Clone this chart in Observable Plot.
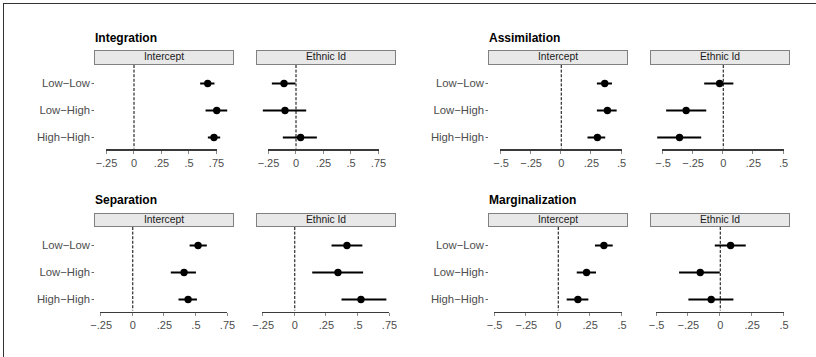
<!DOCTYPE html>
<html>
<head>
<meta charset="utf-8">
<script src="https://cdn.jsdelivr.net/npm/d3@7"></script>
<script src="https://cdn.jsdelivr.net/npm/@observablehq/plot@0.6"></script>
<style>
  html, body { margin: 0; padding: 0; background: #fff; }
  #chart { position: relative; width: 816px; height: 357px; overflow: hidden; font-family: "Liberation Sans", Arial, sans-serif; }
  .border { position: absolute; left: 3px; top: 3px; right: -5px; bottom: -5px; border-top: 1.5px solid #333; border-left: 1.5px solid #333; }
  .title { position: absolute; font-weight: bold; font-size: 12px; line-height: 12px; color: #000; white-space: nowrap; }
  .strip { position: absolute; box-sizing: border-box; width: 140px; height: 14.5px; background: #e8e8e8; border: 1px solid #808080; font-size: 10.3px; line-height: 12.5px; text-align: center; color: #1a1a1a; }
  .panel { position: absolute; }
  .axisline { position: absolute; height: 1.3px; background: #3a3a3a; z-index: 5; }
  .axistick { position: absolute; width: 1px; height: 3px; background: #8a8a8a; z-index: 5; }
</style>
</head>
<body>
<div id="chart"><div class="border"></div></div>
<script>
// ---- data ----
const categories = ["Low-Low", "Low-High", "High-High"];
const facets = ["Intercept", "Ethnic Id"];
const groupNames = ["Integration", "Assimilation", "Separation", "Marginalization"];
const ticksWide = [-0.25, 0, 0.25, 0.5, 0.75];
const ticksSym = [-0.5, -0.25, 0, 0.25, 0.5];

// Integration
const intInterceptEst = [0.67, 0.752, 0.727];
const intInterceptLo  = [0.606, 0.655, 0.676];
const intInterceptHi  = [0.736, 0.852, 0.788];
const intEthnicEst = [-0.109, -0.10, 0.042];
const intEthnicLo  = [-0.215, -0.297, -0.115];
const intEthnicHi  = [0.0, 0.097, 0.194];
// Assimilation
const assInterceptEst = [0.361, 0.383, 0.30];
const assInterceptLo  = [0.30, 0.30, 0.222];
const assInterceptHi  = [0.425, 0.464, 0.369];
const assEthnicEst = [-0.03, -0.308, -0.363];
const assEthnicLo  = [-0.154, -0.47, -0.544];
const assEthnicHi  = [0.088, -0.137, -0.179];
// Separation
const sepInterceptEst = [0.517, 0.406, 0.438];
const sepInterceptLo  = [0.454, 0.305, 0.366];
const sepInterceptHi  = [0.59, 0.504, 0.512];
const sepEthnicEst = [0.413, 0.342, 0.524];
const sepEthnicLo  = [0.295, 0.142, 0.374];
const sepEthnicHi  = [0.539, 0.545, 0.729];
// Marginalization
const marInterceptEst = [0.358, 0.222, 0.154];
const marInterceptLo  = [0.292, 0.149, 0.07];
const marInterceptHi  = [0.431, 0.30, 0.24];
const marEthnicEst = [0.081, -0.157, -0.071];
const marEthnicLo  = [-0.039, -0.319, -0.246];
const marEthnicHi  = [0.204, 0.0, 0.107];

// ---- layout (not data) ----
const layout = [
  {left: 94,  top: 50,    off: 12,   len: 110,   ticks: ticksWide, series: [[intInterceptEst, intInterceptLo, intInterceptHi], [intEthnicEst, intEthnicLo, intEthnicHi]]},
  {left: 488, top: 50,    off: 12.5, len: 120.5, ticks: ticksSym,  series: [[assInterceptEst, assInterceptLo, assInterceptHi], [assEthnicEst, assEthnicLo, assEthnicHi]]},
  {left: 94,  top: 212.5, off: 6.7,  len: 126.3, ticks: ticksWide, series: [[sepInterceptEst, sepInterceptLo, sepInterceptHi], [sepEthnicEst, sepEthnicLo, sepEthnicHi]]},
  {left: 488, top: 212.5, off: 6,    len: 127.5, ticks: ticksSym,  series: [[marInterceptEst, marInterceptLo, marInterceptHi], [marEthnicEst, marEthnicLo, marEthnicHi]]}
];

const MINUS = "\u2212";
const fmtX = d => d === 0 ? "0" : (d < 0 ? MINUS : "") + String(Math.abs(d)).replace(/^0/, "");
const fmtY = d => d.replace(/-/g, MINUS);

const chart = document.getElementById("chart");
const STRIP_W = 140, STRIP_H = 14.5, FACET_GAP = 162, LABEL_W = 90, PAD = 24, H = 110, AXIS_Y = 85.5, AXIS_W = 1.3;
const baseStyle = {background: "transparent", color: "#4d4d4d", fontFamily: "'Liberation Sans', Arial, sans-serif", overflow: "visible"};

layout.forEach((g, gi) => {
  const t = document.createElement("div");
  t.className = "title";
  t.textContent = groupNames[gi];
  t.style.left = (g.left + 1) + "px";
  t.style.top = (g.top - 18.2) + "px";
  chart.appendChild(t);

  facets.forEach((f, fi) => {
    const stripLeft = g.left + fi * FACET_GAP;
    const s = document.createElement("div");
    s.className = "strip";
    s.textContent = f;
    s.style.left = stripLeft + "px";
    s.style.top = g.top + "px";
    chart.appendChild(s);

    const [est, lo, hi] = g.series[fi];
    const rows = categories.map((c, i) => ({cat: c, est: est[i], lo: lo[i], hi: hi[i]}));
    const extraLeft = fi === 0 ? LABEL_W : PAD;
    const width = extraLeft + STRIP_W + PAD;

    const marks = [
      Plot.ruleX([0], {stroke: "#000", strokeWidth: 1, strokeDasharray: "3,1.6", insetBottom: 2}),
      Plot.ruleY(rows, {y: "cat", x1: "lo", x2: "hi", stroke: "#000", strokeWidth: 2}),
      Plot.dot(rows, {x: "est", y: "cat", r: 3.7, fill: "#000", stroke: "none"}),
      Plot.axisX({ticks: g.ticks, tickFormat: fmtX, tickSize: 0, tickPadding: 8.5, fontSize: 11, fill: "#4d4d4d"})
    ];
    if (fi === 0) {
      marks.push(Plot.axisY({tickSize: 2.5, tickPadding: 2, dx: -g.off, fontSize: 11.3, tickFormat: fmtY, stroke: "#666", fill: "#4d4d4d", label: null}));
    }
    const plot = Plot.plot({
      width, height: H, marginTop: 0, marginBottom: H - AXIS_Y,
      marginLeft: extraLeft + g.off,
      marginRight: width - (extraLeft + g.off + g.len),
      x: {domain: [g.ticks[0], g.ticks[g.ticks.length - 1]], label: null},
      y: {type: "point", domain: categories, range: [17, 72], padding: 0, label: null, axis: fi === 0 ? undefined : null},
      style: baseStyle,
      marks
    });
    const svgLeft = stripLeft - extraLeft;
    const svgTop = g.top + STRIP_H;
    plot.classList.add("panel");
    plot.style.left = svgLeft + "px";
    plot.style.top = svgTop + "px";
    chart.appendChild(plot);

    // range-frame axis line and tick marks, positioned with the plot's own x scale
    const sx = plot.scale("x");
    const xa = sx.apply(g.ticks[0]);
    const xb = sx.apply(g.ticks[g.ticks.length - 1]);
    const line = document.createElement("div");
    line.className = "axisline";
    line.style.left = (svgLeft + xa - 0.5) + "px";
    line.style.width = (xb - xa + 1) + "px";
    line.style.top = (svgTop + AXIS_Y - AXIS_W / 2) + "px";
    chart.appendChild(line);
    g.ticks.forEach(v => {
      const tk = document.createElement("div");
      tk.className = "axistick";
      tk.style.left = (svgLeft + sx.apply(v) - 0.5) + "px";
      tk.style.top = (svgTop + AXIS_Y + AXIS_W / 2) + "px";
      chart.appendChild(tk);
    });
  });
});
</script>
</body>
</html>
